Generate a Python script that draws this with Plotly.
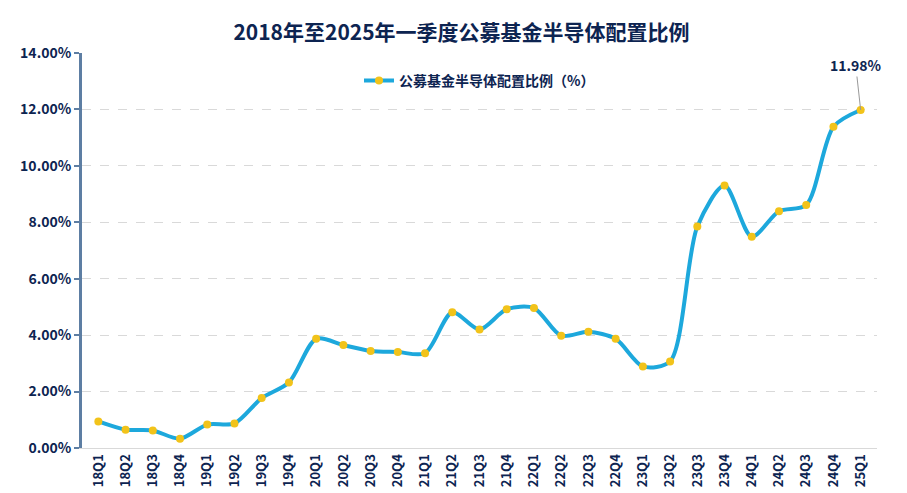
import plotly.graph_objects as go

quarters = ["18Q1","18Q2","18Q3","18Q4","19Q1","19Q2","19Q3","19Q4","20Q1","20Q2","20Q3","20Q4",
            "21Q1","21Q2","21Q3","21Q4","22Q1","22Q2","22Q3","22Q4","23Q1","23Q2","23Q3","23Q4",
            "24Q1","24Q2","24Q3","24Q4","25Q1"]
ratio = [0.94,0.65,0.62,0.33,0.83,0.87,1.77,2.32,3.87,3.65,3.44,3.40,
         3.36,4.81,4.20,4.92,4.96,3.98,4.12,3.87,2.89,3.07,7.85,9.30,
         7.49,8.39,8.61,11.39,11.98]
series_name = "公募基金半导体配置比例（%）"
title = "2018年至2025年一季度公募基金半导体配置比例"

navy = "#0d2451"
font = "Noto Sans CJK SC"

fig = go.Figure()
fig.add_trace(go.Scatter(
    x=quarters, y=[v / 100 for v in ratio], mode="lines+markers", name=series_name,
    line=dict(color="#1da8dc", width=4, shape="spline", smoothing=0.8),
    marker=dict(color="#f2c31a", size=8),
))
fig.add_annotation(x=quarters[-1], y=ratio[-1] / 100, text=f"{ratio[-1]:.2f}%",
                   showarrow=True, arrowhead=0, arrowwidth=1, arrowcolor="#999",
                   ax=-5, ay=-45, font=dict(size=14, color=navy, family=font, weight="bold"))
fig.update_layout(
    width=907, height=493,
    margin=dict(l=72, r=38, t=45, b=53),
    paper_bgcolor="white", plot_bgcolor="white",
    title=dict(text=title, x=0.5, y=0.965, xanchor="center",
               font=dict(size=21, color=navy, family=font, weight="bold")),
    font=dict(family=font, color=navy),
    showlegend=True,
    legend=dict(x=0.5, y=0.97, xanchor="center", orientation="h",
                font=dict(size=14, color=navy, family=font, weight="bold")),
    xaxis=dict(tickangle=-90, tickfont=dict(size=13, color=navy, family=font, weight="bold"),
               showgrid=False, showline=True, linecolor="#d9d9d9", range=[-0.6, 28.6]),
    yaxis=dict(range=[0, 0.14], dtick=0.02, tickformat=".2%",
               tickfont=dict(size=14, color=navy, family=font, weight="bold"),
               showgrid=True, gridcolor="#d9d9d9", griddash="dash",
               showline=True, linecolor="#5d7ea3", linewidth=3,
               ticks="outside", tickcolor="#5d7ea3", ticklen=5, tickwidth=2, zeroline=False),
)
fig.write_html("out.html")
